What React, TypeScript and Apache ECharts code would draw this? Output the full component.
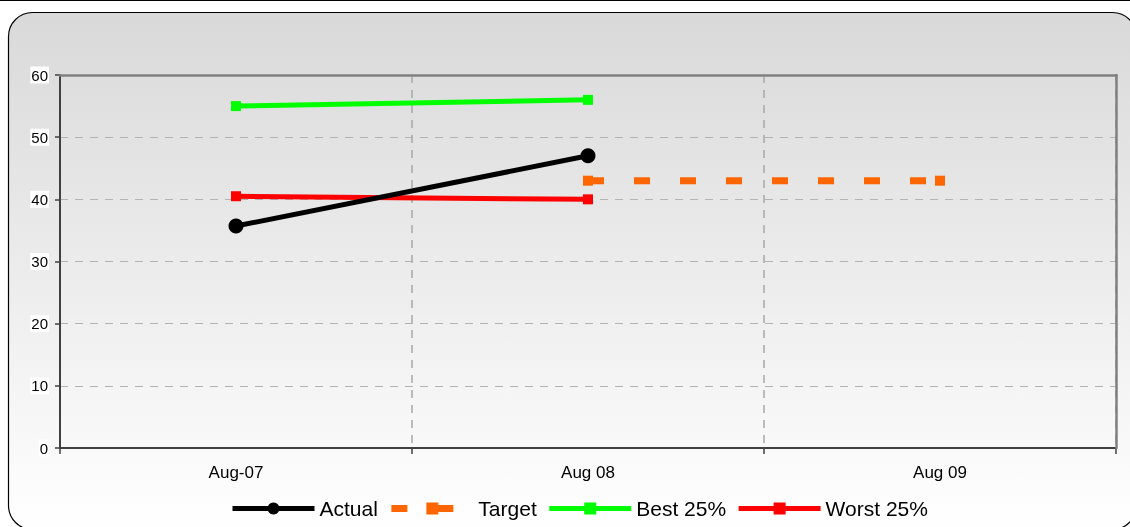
import React, { useEffect, useRef } from "react";
import * as echarts from "echarts";

const categories = ["Aug-07", "Aug 08", "Aug 09"];
const actual = [35.7, 47, null];
const target = [null, 43, 43];
const best25 = [55, 56, null];
const worst25 = [40.5, 40, null];

const FONT = "Arial, 'Liberation Sans', sans-serif";

export default function App() {
  const ref = useRef<HTMLDivElement>(null);
  useEffect(() => {
    document.body.style.margin = "0";
    const chart = echarts.init(ref.current!, null, { renderer: "svg" });
    chart.setOption({
      animation: false,
      textStyle: { fontFamily: FONT },
      graphic: [
        {
          type: "rect",
          z: -10,
          silent: true,
          shape: { x: 8.5, y: 12.5, width: 1128, height: 517, r: 24 },
          style: {
            fill: new echarts.graphic.LinearGradient(0, 0, 0, 1, [
              { offset: 0, color: "#d9d9d9" },
              { offset: 1, color: "#ffffff" },
            ]),
            stroke: "#000000",
            lineWidth: 1.2,
          },
        },
        {
          type: "line",
          z: -10,
          silent: true,
          shape: { x1: 0, y1: 0.5, x2: 1130, y2: 0.5 },
          style: { stroke: "#000000", lineWidth: 1 },
        },
      ],
      grid: {
        left: 60,
        right: 14,
        top: 75,
        bottom: 79,
        show: false,
      },
      legend: {
        left: 230,
        top: 498,
        padding: 0,
        itemWidth: 82,
        itemHeight: 15,
        itemGap: 10,
        textStyle: { fontSize: 21, color: "#000", fontFamily: FONT },
        data: [
          { name: "Actual", lineStyle: { width: 5 } },
          { name: "Target", lineStyle: { width: 7 } },
          { name: "Best 25%", lineStyle: { width: 5 } },
          { name: "Worst 25%", lineStyle: { width: 5 } },
        ],
      },
      xAxis: [
        {
          type: "category",
          data: categories,
          boundaryGap: true,
          z: 0,
          axisLine: { onZero: false, lineStyle: { color: "#404040", width: 2 } },
          axisTick: { show: true, length: 6, lineStyle: { color: "#404040", width: 1.5 } },
          axisLabel: { color: "#000", fontSize: 17, margin: 16, fontFamily: FONT },
          splitLine: {
            show: true,
            lineStyle: { color: "#a8a8a8", type: [8, 7], width: 1.5 },
          },
        },
        {
          type: "category",
          data: categories,
          position: "top",
          z: 1,
          boundaryGap: true,
          axisLine: { show: true, onZero: false, lineStyle: { color: "#808080", width: 2.5 } },
          axisTick: { show: false },
          axisLabel: { show: false },
          splitLine: { show: false },
        },
      ],
      yAxis: [
        {
          type: "value",
          min: 0,
          max: 60,
          interval: 10,
          z: 0,
          axisLine: { show: true, onZero: false, lineStyle: { color: "#404040", width: 2 } },
          axisTick: { show: true, length: 5, lineStyle: { color: "#404040", width: 1.5 } },
          axisLabel: {
            color: "#000",
            fontSize: 15,
            margin: 11,
            fontFamily: FONT,
            backgroundColor: "#ffffff",
            padding: [1, 1],
          },
          splitLine: {
            show: true,
            lineStyle: { color: "#b3b3b3", type: [8, 7], width: 1 },
          },
        },
        {
          type: "value",
          min: 0,
          max: 60,
          interval: 10,
          position: "right",
          z: 1,
          axisLine: { show: true, onZero: false, lineStyle: { color: "#808080", width: 2.5 } },
          axisTick: { show: false },
          axisLabel: { show: false },
          splitLine: { show: false },
        },
      ],
      series: [
        {
          name: "Actual",
          type: "line",
          data: actual,
          z: 5,
          symbol: "circle",
          symbolSize: 15,
          lineStyle: { color: "#000000", width: 5 },
          itemStyle: { color: "#000000" },
        },
        {
          name: "Target",
          type: "line",
          data: target,
          z: 3,
          symbol: "rect",
          symbolSize: 10,
          lineStyle: { color: "#ff6600", width: 7, type: [16, 30] },
          itemStyle: { color: "#ff6600" },
        },
        {
          name: "Best 25%",
          type: "line",
          data: best25,
          z: 3,
          symbol: "rect",
          symbolSize: 10,
          lineStyle: { color: "#00ff00", width: 5 },
          itemStyle: { color: "#00ff00" },
        },
        {
          name: "Worst 25%",
          type: "line",
          data: worst25,
          z: 3,
          symbol: "rect",
          symbolSize: 10,
          lineStyle: { color: "#ff0000", width: 5 },
          itemStyle: { color: "#ff0000" },
        },
      ],
    });
    return () => chart.dispose();
  }, []);
  return (
    <div
      ref={ref}
      style={{ position: "fixed", left: 0, top: 0, width: 1130, height: 527 }}
    />
  );
}
